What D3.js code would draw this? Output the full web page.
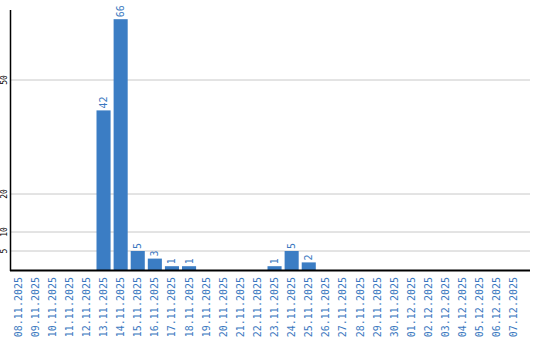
<!DOCTYPE html>
<html>
<head>
<meta charset="utf-8">
<script src="https://cdn.jsdelivr.net/npm/d3@7"></script>
<style>
  body { margin: 0; background: #fff; }
  svg { display: block; }
</style>
</head>
<body>
<script>
// dates shown along the x axis
const dates = [
    '08.11.2025', '09.11.2025', '10.11.2025', '11.11.2025', '12.11.2025',
    '13.11.2025', '14.11.2025', '15.11.2025', '16.11.2025', '17.11.2025',
    '18.11.2025', '19.11.2025', '20.11.2025', '21.11.2025', '22.11.2025',
    '23.11.2025', '24.11.2025', '25.11.2025', '26.11.2025', '27.11.2025',
    '28.11.2025', '29.11.2025', '30.11.2025', '01.12.2025', '02.12.2025',
    '03.12.2025', '04.12.2025', '05.12.2025', '06.12.2025', '07.12.2025'
];
const counts = [
    0, 0, 0, 0, 0, 42, 66, 5, 3, 1,
    1, 0, 0, 0, 0, 1, 5, 2, 0, 0,
    0, 0, 0, 0, 0, 0, 0, 0, 0, 0
];
const yTicks = [5, 10, 20, 50];

const width = 540, height = 340;
const left = 11, right = 530, baseY = 270;

const svg = d3.select('body').append('svg')
    .attr('width', width).attr('height', height);

const x = d3.scaleBand()
    .domain(dates)
    .range([left, left + dates.length * 17])
    .paddingInner(3 / 17)
    .paddingOuter(0)
    .align(0);

const y = d3.scaleLinear()
    .domain([0, 50])
    .range([baseY, 80]);

// grid lines
svg.append('g')
    .selectAll('line')
    .data(yTicks)
    .join('line')
    .attr('x1', left).attr('x2', right)
    .attr('y1', d => y(d)).attr('y2', d => y(d))
    .attr('stroke', '#c8c8c8').attr('stroke-width', 1);

// y tick labels
svg.append('g')
    .selectAll('text')
    .data(yTicks)
    .join('text')
    .attr('transform', d => `translate(7,${y(d)}) rotate(-90)`)
    .attr('text-anchor', 'middle')
    .attr('font-family', 'DejaVu Sans Mono')
    .attr('font-size', 8)
    .attr('fill', '#000')
    .text(d => d);

// bars
svg.append('g')
    .selectAll('rect')
    .data(counts)
    .join('rect')
    .attr('x', (d, i) => x(dates[i]))
    .attr('y', d => y(d))
    .attr('width', x.bandwidth())
    .attr('height', d => baseY - y(d))
    .attr('fill', '#3b7dc4');

// value labels
svg.append('g')
    .selectAll('text')
    .data(counts.map((v, i) => ({ v, i })).filter(d => d.v > 0))
    .join('text')
    .attr('transform', d => `translate(${x(dates[d.i]) + x.bandwidth() / 2 + 3.5},${y(d.v) - 2}) rotate(-90)`)
    .attr('text-anchor', 'start')
    .attr('font-family', 'DejaVu Sans Mono')
    .attr('font-size', 10)
    .attr('fill', '#3a78c0')
    .text(d => d.v);

// axes lines
svg.append('line')
    .attr('x1', left - 0.5).attr('x2', left - 0.5)
    .attr('y1', 10).attr('y2', baseY + 1)
    .attr('stroke', '#000').attr('stroke-width', 1.5);
svg.append('line')
    .attr('x1', left - 1).attr('x2', right)
    .attr('y1', baseY + 0.5).attr('y2', baseY + 0.5)
    .attr('stroke', '#000').attr('stroke-width', 2);

// x labels
svg.append('g')
    .selectAll('text')
    .data(dates)
    .join('text')
    .attr('transform', d => `translate(${x(d) + x.bandwidth() / 2 + 3.5},277) rotate(-90)`)
    .attr('text-anchor', 'end')
    .attr('font-family', 'DejaVu Sans Mono')
    .attr('font-size', 10)
    .attr('fill', '#3a78c0')
    .text(d => d);
</script>
</body>
</html>
